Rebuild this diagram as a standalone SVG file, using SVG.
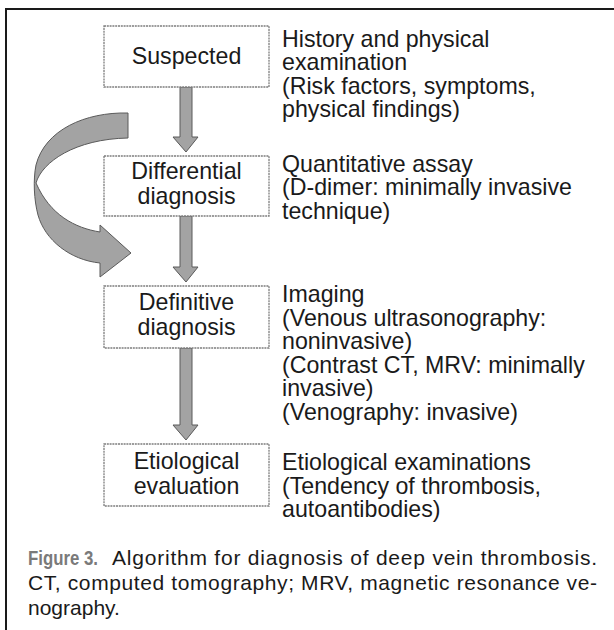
<svg xmlns="http://www.w3.org/2000/svg" width="614" height="630" viewBox="0 0 614 630">
<style>
  .box { fill: #ffffff; stroke: #7d7d7d; stroke-width: 1.3; stroke-dasharray: 2 0.8; }
  .ntext { font-family: "Liberation Sans", Arial, sans-serif; font-size: 23.2px; fill: #1a1a1a; text-anchor: middle; }
  .rtext { font-family: "Liberation Sans", Arial, sans-serif; font-size: 23.2px; fill: #1a1a1a; }
  .cap { font-family: "Liberation Sans", Arial, sans-serif; font-size: 21px; fill: #1a1a1a; }
  .capb { font-family: "Liberation Sans", Arial, sans-serif; font-size: 21px; font-weight: bold; fill: #7a7a7a; }
  .arrow { fill: #a3a3a3; stroke: #5a5a5a; stroke-width: 1; stroke-linejoin: miter; }
</style>
<rect x="0" y="0" width="614" height="630" fill="#ffffff"/>
<g id="frame" stroke="#1a1a1a" stroke-width="2" fill="none">
  <line x1="5" y1="9" x2="614" y2="9"/>
  <line x1="6" y1="9" x2="6" y2="630"/>
</g>
<g id="connectors">
  <path class="arrow" d="M180,87 L192,87 L192,137 L198,137 L186,152 L173,137 L180,137 Z"/>
  <path class="arrow" d="M180,216 L192,216 L192,267 L198,267 L186,282 L173,267 L180,267 Z"/>
  <path class="arrow" d="M180,348 L192,348 L192,425 L198,425 L186,440 L173,425 L180,425 Z"/>
  <path class="arrow" d="M128,113 C85,112 45,130 36,165 C33,180 34,200 38,215 C45,240 70,260 100,263 L100,277 L131,253 L100,225 L100,232 C75,228 50,215 36,183 C42,162 75,139 128,138 Z"/>
</g>
<g id="n1">
  <rect class="box" x="104" y="26" width="165" height="61"/>
  <text class="ntext" x="186.5" y="64">Suspected</text>
</g>
<g id="n2">
  <rect class="box" x="104" y="156" width="165" height="60"/>
  <text class="ntext" x="186.5" y="179">Differential</text>
  <text class="ntext" x="186.5" y="203.5">diagnosis</text>
</g>
<g id="n3">
  <rect class="box" x="104" y="286" width="165" height="62"/>
  <text class="ntext" x="186.5" y="310">Definitive</text>
  <text class="ntext" x="186.5" y="334.5">diagnosis</text>
</g>
<g id="n4">
  <rect class="box" x="104" y="444" width="165" height="62"/>
  <text class="ntext" x="186.5" y="469">Etiological</text>
  <text class="ntext" x="186.5" y="493.5">evaluation</text>
</g>
<g id="t1" class="rtext">
  <text x="282" y="46.5">History and physical</text>
  <text x="282" y="70">examination</text>
  <text x="282" y="93.5">(Risk factors, symptoms,</text>
  <text x="282" y="117">physical findings)</text>
</g>
<g id="t2" class="rtext">
  <text x="282" y="171.5">Quantitative assay</text>
  <text x="282" y="195">(D-dimer: minimally invasive</text>
  <text x="282" y="218.5">technique)</text>
</g>
<g id="t3" class="rtext">
  <text x="282" y="302">Imaging</text>
  <text x="282" y="325.5">(Venous ultrasonography:</text>
  <text x="282" y="349">noninvasive)</text>
  <text x="282" y="372.5">(Contrast CT, MRV: minimally</text>
  <text x="282" y="396">invasive)</text>
  <text x="282" y="419.5">(Venography: invasive)</text>
</g>
<g id="t4" class="rtext">
  <text x="282" y="470">Etiological examinations</text>
  <text x="282" y="493.5">(Tendency of thrombosis,</text>
  <text x="282" y="517">autoantibodies)</text>
</g>
<g id="caption">
  <text class="capb" x="28" y="565" textLength="70" lengthAdjust="spacingAndGlyphs">Figure 3.</text>
  <text class="cap" x="112" y="565" textLength="485" lengthAdjust="spacing">Algorithm for diagnosis of deep vein thrombosis.</text>
  <text class="cap" x="28" y="590" textLength="569" lengthAdjust="spacing">CT, computed tomography; MRV, magnetic resonance ve-</text>
  <text class="cap" x="28" y="615">nography.</text>
</g>
</svg>
